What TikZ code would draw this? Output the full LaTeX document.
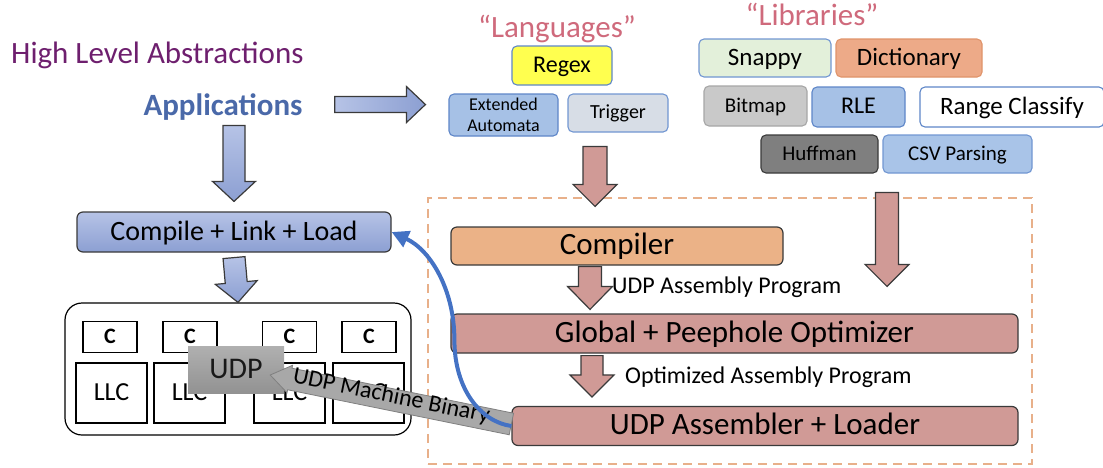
\documentclass[tikz,border=0pt]{standalone}
\usepackage{fontspec}
\setmainfont{Carlito}
\usetikzlibrary{calc,arrows.meta}

\definecolor{edge}{HTML}{3A3A3A}
\definecolor{rosefill}{HTML}{D09A96}
\definecolor{compfill}{HTML}{EBB287}
\definecolor{frameor}{HTML}{E8B08A}
\definecolor{purp}{HTML}{6E1F6E}
\definecolor{appblue}{HTML}{4A69A9}
\definecolor{rosetext}{HTML}{CF6A7C}
\definecolor{curveblue}{HTML}{4472C4}
\definecolor{boxblue}{HTML}{A6C1E6}
\definecolor{boxblueedge}{HTML}{5E86C8}
\definecolor{lightedge}{HTML}{7196D2}
\definecolor{bluetop}{HTML}{B6C3E6}
\definecolor{bluebot}{HTML}{8C9FD2}
\definecolor{regexfill}{HTML}{FFFF4F}
\definecolor{trigfill}{HTML}{D7DDE6}
\definecolor{snapfill}{HTML}{E3F0DA}
\definecolor{dictfill}{HTML}{EDAA88}
\definecolor{dictedge}{HTML}{E0946A}
\definecolor{bitfill}{HTML}{C9C9C9}
\definecolor{bitedge}{HTML}{A6A6A6}
\definecolor{hufffill}{HTML}{7F7F7F}
\definecolor{csvfill}{HTML}{A9C4E8}
\definecolor{udptop}{HTML}{B0B0B0}
\definecolor{udpbot}{HTML}{929292}
\definecolor{binfill}{HTML}{A8A8A8}
\definecolor{binedge}{HTML}{808080}

% fat block arrow: [style]{from}{to}{half shaft}{half head}{head length}
\newcommand\blockarrow[6][]{%
  \coordinate (ba-s) at (#2);
  \coordinate (ba-t) at (#3);
  \coordinate (ba-h) at ($(ba-t)!#6!(ba-s)$);
  \path[#1] ($(ba-s)!#4!90:(ba-t)$) -- ($(ba-h)!#4!90:(ba-t)$)
    -- ($(ba-h)!#5!90:(ba-t)$) -- (ba-t)
    -- ($(ba-h)!#5!-90:(ba-t)$) -- ($(ba-h)!#4!-90:(ba-t)$)
    -- ($(ba-s)!#4!-90:(ba-t)$) -- cycle;}

\begin{document}
\begin{tikzpicture}[x=1pt,y=-1pt,
  fs/.style={font=\fontsize{#1}{#1}\selectfont},
  csz/.style={text height=0.8*#1pt, text depth=0.22*#1pt},
  sz/.style={fs=#1, csz=#1},
  tboxbase/.style={draw, rounded corners=5pt, line width=1.1pt, inner sep=0pt, align=center},
  tbox/.style={tboxbase},
  flow/.style={draw=edge, rounded corners=6pt, line width=1.2pt, inner sep=0pt},
  cell/.style={draw=black, line width=1.2pt, inner sep=0pt},
  label/.style={inner sep=0pt},
  rosearrow/.style={draw=edge, fill=rosefill, line width=1.2pt},
  bluearrow/.style={draw=edge, top color=bluetop, bottom color=bluebot, line width=1.2pt},
  bluearrowh/.style={draw=edge, left color=bluetop, right color=bluebot, line width=1.2pt},
  binarrow/.style={draw=binedge, fill=binfill, line width=0.8pt}]

\useasboundingbox (0,0) rectangle (1103,467);

% toolchain frame
\node[draw=frameor, dash pattern=on 9pt off 6pt, line width=2.2pt, inner sep=0pt,
      minimum width=604pt, minimum height=266pt] (frame) at (730,331) {};

% headings
\node[label, fs=31, text=purp, anchor=base west] (hla) at (11,63) {High Level Abstractions};
\node[label, font=\fontsize{31}{31}\selectfont\bfseries, text=appblue, anchor=base] (apps) at (223,115) {Applications};
\node[label, fs=31, text=rosetext, anchor=base] (langs) at (557,37) {“Languages”};
\node[label, fs=31, text=rosetext, anchor=base] (libs) at (812,25) {“Libraries”};

% languages
\node[tbox, sz=24, fill=regexfill, draw=boxblueedge, minimum width=100pt, minimum height=39pt] (regex) at (562,65.5) {Regex};
\node[tboxbase, font=\fontsize{18}{21}\selectfont, fill=boxblue, draw=boxblueedge, minimum width=109pt, minimum height=42pt] (ext) at (503.5,115) {Extended\\Automata};
\node[tbox, sz=20, fill=trigfill, draw=lightedge, minimum width=100pt, minimum height=38pt] (trig) at (618,113) {Trigger};

% libraries
\node[tbox, sz=25, fill=snapfill, draw=lightedge, minimum width=132pt, minimum height=38pt] (snappy) at (765,58) {Snappy};
\node[tbox, sz=25, fill=dictfill, draw=dictedge, minimum width=146pt, minimum height=38pt] (dict) at (909,58) {Dictionary};
\node[tbox, sz=21, fill=bitfill, draw=bitedge, minimum width=103pt, minimum height=40pt] (bitmap) at (755.5,106) {Bitmap};
\node[tbox, sz=24, fill=boxblue, draw=boxblueedge, minimum width=93pt, minimum height=40pt] (rle) at (858.5,107) {RLE};
\node[tbox, sz=25, fill=white, draw=boxblueedge, minimum width=184pt, minimum height=40pt] (range) at (1012,107) {Range Classify};
\node[tbox, sz=21, fill=hufffill, draw=edge, minimum width=117pt, minimum height=38pt] (huff) at (819.5,154) {Huffman};
\node[tbox, sz=21, fill=csvfill, draw=lightedge, minimum width=149pt, minimum height=38pt] (csv) at (957.5,154) {CSV Parsing};

% host flow
\node[flow, sz=28, top color=bluetop, bottom color=bluebot, minimum width=314pt, minimum height=40pt] (cll) at (234,232) {Compile + Link + Load};

% toolchain stages
\node[flow, sz=31, fill=compfill, minimum width=332pt, minimum height=38pt] (comp) at (617,246) {Compiler};
\node[flow, sz=31, fill=rosefill, minimum width=567pt, minimum height=39pt] (glob) at (734.5,333.5) {Global + Peephole Optimizer};
\node[flow, sz=31, fill=rosefill, minimum width=506pt, minimum height=39pt] (asm) at (765,426) {UDP Assembler + Loader};
\node[label, fs=24, anchor=base west] (t1) at (612,293) {UDP Assembly Program};
\node[label, fs=24, anchor=base west] (t2) at (625,383) {Optimized Assembly Program};

% arrows
\blockarrow[bluearrowh]{$(apps.east)+(32,-2)$}{$(ext.west |- apps.east)+(-23,-2)$}{8pt}{18pt}{19pt}
\blockarrow[bluearrow]{$(cll.north)+(0,-86)$}{$(cll.north)+(0,-10)$}{11pt}{21.5pt}{20pt}

% chip
\node[draw=black, line width=1.2pt, rounded corners=17pt, minimum width=346pt, minimum height=132pt] (chip) at (238,369) {};
\blockarrow[bluearrow]{$(cll.south)+(0,5)$}{chip.north}{11pt}{21pt}{20pt}

\foreach \i/\x in {1/110,2/190,3/289.5,4/369}
  \node[cell, font=\fontsize{22}{22}\selectfont\bfseries, csz=22, minimum width=54pt, minimum height=31pt] (c\i) at (\x,337) {C};
\foreach \i/\x in {1/111.5,2/189.5,3/289.5,4/368.5}
  \node[cell, sz=26, minimum width=71pt, minimum height=60pt] (llc\i) at (\x,393) {LLC};
\node[inner sep=0pt, sz=30, text=black!90, top color=udptop, bottom color=udpbot, minimum width=96pt, minimum height=47pt] (udp) at (236,369.5) {UDP};

\blockarrow[rosearrow]{$(comp.north)+(-22,-80)$}{$(comp.north)+(-22,-20)$}{12pt}{22pt}{22pt}
\blockarrow[rosearrow]{$(glob.north)+(152.5,-121)$}{$(glob.north)+(152.5,-27)$}{11.5pt}{22pt}{22pt}
\coordinate (a6s) at ($(comp.south)+(-27,1)$);
\coordinate (a6t) at ($(a6s |- glob.north)+(0,-4)$);
\blockarrow[rosearrow]{a6s}{a6t}{11.5pt}{22.5pt}{23pt}
\coordinate (a7s) at ($(glob.south)+(-142.5,2)$);
\coordinate (a7t) at ($(a7s |- asm.north)+(0,-9)$);
\blockarrow[rosearrow]{a7s}{a7t}{11pt}{22pt}{22pt}

% machine binary back to the UDP
\coordinate (bin-s) at ($(asm.west)+(0,-2)$);
\coordinate (bin-t) at ($(udp.east)+(-14,5.5)$);
\blockarrow[binarrow]{bin-s}{bin-t}{11pt}{14pt}{20pt}
\path (bin-s) -- (bin-t) node[midway, sloped, fs=24, inner sep=0pt, yshift=3pt] {UDP Machine Binary};

% loader feeds back into the host flow
\draw[line width=4pt, curveblue, -{Triangle[length=17pt,width=17pt]}]
  (asm.west) .. controls ($(asm.west)+(-30,-4)$) and ($(asm.west)+(-57,-36)$)
  .. ($(asm.west)+(-57,-86)$) .. controls ($(asm.west)+(-57,-136)$) and ($(cll.east)+(39,18)$)
  .. (cll.east);
\end{tikzpicture}
\end{document}
